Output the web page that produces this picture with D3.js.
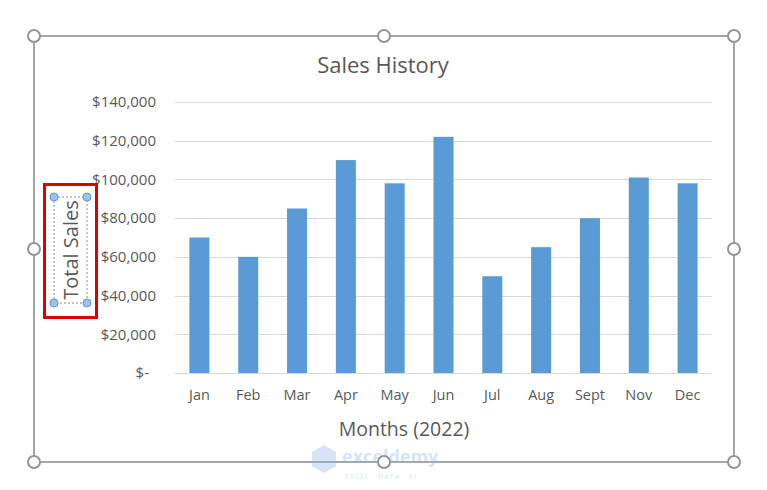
<!DOCTYPE html>
<html><head><meta charset="utf-8">
<script src="https://cdn.jsdelivr.net/npm/d3@7"></script>
<style>body{margin:0;background:#fff}svg{display:block}</style>
</head><body>
<script>
const months = ["Jan","Feb","Mar","Apr","May","Jun","Jul","Aug","Sept","Nov","Dec"];
const sales = [70000,60000,85000,110000,98000,122000,50000,65000,80000,101000,98000];
const yTicks = [0,20000,40000,60000,80000,100000,120000,140000];
const title = "Sales History", xTitle = "Months (2022)", yTitle = "Total Sales";

(function(){
const W=767,H=490, font="'Open Sans', sans-serif";
const svg=d3.select("body").append("svg").attr("width",W).attr("height",H);
const pL=175,pR=712,pT=102,pB=373;
const x=d3.scaleBand().domain(months).range([pL,pR]).paddingInner(0.59).paddingOuter(0.295);
const y=d3.scaleLinear().domain([0,140000]).range([pB,pT]);

// frame
svg.append("rect").attr("x",34).attr("y",36).attr("width",700).attr("height",426)
  .attr("fill","#fff").attr("stroke","#a6a6a6").attr("stroke-width",2);

// gridlines
svg.append("g").selectAll("line").data(yTicks).join("line")
  .attr("x1",pL).attr("x2",pR).attr("y1",d=>Math.round(y(d))+0.5).attr("y2",d=>Math.round(y(d))+0.5)
  .attr("stroke","#d9d9d9").attr("stroke-width",1);

// y labels
const fmt=d3.format(",");
svg.append("g").selectAll("text").data(yTicks).join("text")
  .attr("x",d=>d===0?149:156).attr("y",d=>y(d)).attr("dy","0.35em").attr("text-anchor","end")
  .attr("font-family",font).attr("font-size",15).attr("fill","#595959")
  .text(d=>d===0?"$-":"$"+fmt(d));

// bars
svg.append("g").selectAll("rect").data(months).join("rect")
  .attr("x",d=>x(d)).attr("width",x.bandwidth())
  .attr("y",(d,i)=>y(sales[i])).attr("height",(d,i)=>y(0)-y(sales[i]))
  .attr("fill","#5b9bd5");

// x labels
svg.append("g").selectAll("text").data(months).join("text")
  .attr("x",d=>x(d)+x.bandwidth()/2).attr("y",395).attr("dy","0.35em").attr("text-anchor","middle")
  .attr("font-family",font).attr("font-size",14.5).attr("fill","#595959").text(d=>d);

// titles
svg.append("text").attr("x",383).attr("y",65).attr("dy","0.35em").attr("text-anchor","middle")
  .attr("font-family",font).attr("font-size",22).attr("fill","#595959").text(title);
svg.append("text").attr("x",404).attr("y",429).attr("dy","0.35em").attr("text-anchor","middle")
  .attr("font-family",font).attr("font-size",19.5).attr("fill","#595959").text(xTitle);
svg.append("text").attr("transform","translate(71,250) rotate(-90)").attr("dy","0.35em").attr("text-anchor","middle")
  .attr("font-family",font).attr("font-size",20).attr("fill","#595959").text(yTitle);

// selection box
svg.append("rect").attr("x",54).attr("y",197).attr("width",33).attr("height",106)
  .attr("fill","none").attr("stroke","#8c8c8c").attr("stroke-width",1).attr("stroke-dasharray","2,2");
[[54,197],[87,197],[54,303],[87,303]].forEach(p=>{
  svg.append("circle").attr("cx",p[0]).attr("cy",p[1]).attr("r",4)
    .attr("fill","#9dc3e6").attr("stroke","#5b9bd5").attr("stroke-width",1);
});
svg.append("rect").attr("x",44.5).attr("y",184.5).attr("width",52).attr("height",133)
  .attr("fill","none").attr("stroke","#e00000").attr("stroke-width",3);

// watermark
const wm=svg.append("g").attr("opacity",0.35);
wm.append("path").attr("d","M312,452 L324,445 L336,452 L336,466 L324,473 L312,466Z").attr("fill","#8fb4e3");
wm.append("text").attr("x",342).attr("y",463).attr("font-family",font).attr("font-size",18).attr("font-weight","bold")
  .attr("fill","#8fb4e3").text("exceldemy");
wm.append("text").attr("x",345).attr("y",479).attr("font-family",font).attr("font-size",7)
  .attr("fill","#8fb4e3").attr("letter-spacing",1).text("EXCEL · DATA · BI");

// frame handles
[[34,36],[384,36],[734,36],[34,249],[734,249],[34,462],[384,462],[734,462]].forEach(p=>{
  svg.append("circle").attr("cx",p[0]).attr("cy",p[1]).attr("r",6)
    .attr("fill","#fff").attr("stroke","#959595").attr("stroke-width",2);
});
})();
</script>
</body></html>
